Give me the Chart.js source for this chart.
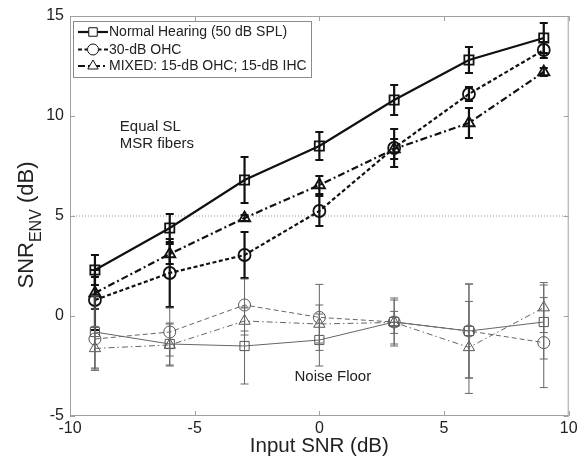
<!DOCTYPE html>
<html>
<head>
<meta charset="utf-8">
<script src="https://cdn.jsdelivr.net/npm/chart.js@4.4.1/dist/chart.umd.min.js"></script>
<style>
html, body { margin: 0; padding: 0; background: #fff; }
#wrap { width: 577px; height: 459px; }
</style>
</head>
<body>
<div id="wrap"><canvas id="chart" width="577" height="459"></canvas></div>
<script>
// Дані
const inputSnr = [-9, -6, -3, 0, 3, 6, 9];
const xTicks = [-10, -5, 0, 5, 10];
const yTicks = [-5, 0, 5, 10, 15];

const nhSnrEnv = [2.3, 4.4, 6.8, 8.5, 10.8, 12.8, 13.9];
const nhSnrEnvErr = [0.75, 0.7, 1.15, 0.7, 0.75, 0.65, 0.75];
const ohcSnrEnv = [0.8, 2.15, 3.05, 5.25, 8.4, 11.1, 13.3];
const ohcSnrEnvErr = [1.5, 1.7, 1.15, 0.75, 0.95, 0.35, 0.4];
const mixSnrEnv = [1.15, 3.1, 4.9, 6.55, 8.35, 9.65, 12.2];
const mixSnrEnvErr = [0.8, 0.5, 0.15, 0.45, 0.5, 0.75, 0.2];

const nhNoise = [-0.8, -1.4, -1.5, -1.2, -0.3, -0.75, -0.3];
const nhNoiseErr = [1.8, 1.05, 1.9, 1.3, 1.2, 2.35, 1.85];
const ohcNoise = [-1.15, -0.8, 0.55, -0.07, -0.3, -0.75, -1.33];
const ohcNoiseErr = [1.5, 1.2, 1.3, 1.65, 1.1, 2.35, 2.25];
const mixNoise = [-1.62, -1.45, -0.25, -0.4, -0.32, -1.57, 0.42];
const mixNoiseErr = [1.1, 1.05, 0.7, 0.95, 0.55, 2.3, 1.25];

const refLineX = [-10, 10];
const refLineY = [5, 5];

const legendLabels = ['Normal Hearing (50 dB SPL)', '30-dB OHC', 'MIXED: 15-dB OHC; 15-dB IHC'];

const FONT = 'Liberation Sans, Arial, sans-serif';

function toPoints(xs, ys) {
    return xs.map((x, i) => ({ x: x, y: ys[i] }));
}

// Серія даних з планками похибок
function series(label, ys, errs, style) {
    return Object.assign({
        label: label,
        data: toPoints(inputSnr, ys),
        errors: errs,
        backgroundColor: 'transparent',
        pointBackgroundColor: 'transparent',
        tension: 0
    }, style);
}

const thick = { borderColor: '#111', pointBorderColor: '#111', borderWidth: 2.2, pointBorderWidth: 1.8 };
const thin = { borderColor: '#666', pointBorderColor: '#555', borderWidth: 1, pointBorderWidth: 1 };

const datasets = [
    series(legendLabels[0], nhSnrEnv, nhSnrEnvErr, Object.assign({ pointStyle: 'rect', pointRadius: 6.5, borderDash: [] }, thick)),
    series(legendLabels[1], ohcSnrEnv, ohcSnrEnvErr, Object.assign({ pointStyle: 'circle', pointRadius: 6, borderDash: [4, 2.5] }, thick)),
    series(legendLabels[2], mixSnrEnv, mixSnrEnvErr, Object.assign({ pointStyle: 'triangle', pointRadius: 6.5, borderDash: [7, 3, 2, 3] }, thick)),
    series('NH noise', nhNoise, nhNoiseErr, Object.assign({ pointStyle: 'rect', pointRadius: 6.5, borderDash: [] }, thin)),
    series('OHC noise', ohcNoise, ohcNoiseErr, Object.assign({ pointStyle: 'circle', pointRadius: 6, borderDash: [5, 3] }, thin)),
    series('MIXED noise', mixNoise, mixNoiseErr, Object.assign({ pointStyle: 'triangle', pointRadius: 6.5, borderDash: [6, 3, 1.5, 3] }, thin)),
    {
        label: 'ref',
        data: toPoints(refLineX, refLineY),
        borderColor: '#999',
        borderWidth: 1,
        borderDash: [1, 2],
        pointRadius: 0,
        order: 10
    }
];

// Рамка осей з внутрішніми поділками
const boxPlugin = {
    id: 'box',
    beforeDatasetsDraw(chart) {
        const { ctx, chartArea: a, scales: { x, y } } = chart;
        ctx.save();
        ctx.strokeStyle = '#a0a0a0';
        ctx.lineWidth = 1;
        ctx.strokeRect(a.left + 0.5, a.top + 0.5, a.right - a.left - 1, a.bottom - a.top - 1);
        ctx.beginPath();
        xTicks.forEach(v => {
            const px = Math.round(x.getPixelForValue(v)) + 0.5;
            ctx.moveTo(px, a.bottom); ctx.lineTo(px, a.bottom - 5);
            ctx.moveTo(px, a.top); ctx.lineTo(px, a.top + 5);
        });
        yTicks.forEach(v => {
            const py = Math.round(y.getPixelForValue(v)) + 0.5;
            ctx.moveTo(a.left, py); ctx.lineTo(a.left + 5, py);
            ctx.moveTo(a.right, py); ctx.lineTo(a.right - 5, py);
        });
        ctx.stroke();
        ctx.restore();
    }
};

// Планки похибок
const errorBarPlugin = {
    id: 'errorBars',
    afterDatasetsDraw(chart) {
        const { ctx, scales: { x, y } } = chart;
        ctx.save();
        chart.data.datasets.forEach(ds => {
            if (!ds.errors) return;
            ctx.strokeStyle = ds.borderColor;
            ctx.lineWidth = ds.borderWidth;
            ctx.setLineDash([]);
            ds.data.forEach((p, i) => {
                const e = ds.errors[i];
                const px = x.getPixelForValue(p.x);
                const top = y.getPixelForValue(p.y + e);
                const bot = y.getPixelForValue(p.y - e);
                ctx.beginPath();
                ctx.moveTo(px, top); ctx.lineTo(px, bot);
                ctx.moveTo(px - 4, top); ctx.lineTo(px + 4, top);
                ctx.moveTo(px - 4, bot); ctx.lineTo(px + 4, bot);
                ctx.stroke();
            });
        });
        ctx.restore();
    }
};

// Підписи всередині графіка, назва осі Y та легенда
const textPlugin = {
    id: 'texts',
    afterDraw(chart) {
        const { ctx, chartArea: a, scales: { x, y } } = chart;
        ctx.save();
        ctx.fillStyle = '#222';
        ctx.font = '15px ' + FONT;
        ctx.textBaseline = 'middle';
        ctx.textAlign = 'left';
        ctx.fillText('Equal SL', x.getPixelForValue(-8), y.getPixelForValue(9.45));
        ctx.fillText('MSR fibers', x.getPixelForValue(-8), y.getPixelForValue(8.6));
        ctx.textAlign = 'center';
        ctx.fillText('Noise Floor', x.getPixelForValue(0.54), y.getPixelForValue(-3.05));

        // Назва осі Y з нижнім індексом
        const big = '22px ' + FONT;
        const small = '16px ' + FONT;
        ctx.font = big;
        const w1 = ctx.measureText('SNR').width;
        const w3 = ctx.measureText(' (dB)').width;
        ctx.font = small;
        const w2 = ctx.measureText('ENV').width;
        const total = w1 + w2 + w3;
        const cy = (a.top + a.bottom) / 2 + 9;
        ctx.translate(33, cy + total / 2);
        ctx.rotate(-Math.PI / 2);
        ctx.textAlign = 'left';
        ctx.textBaseline = 'alphabetic';
        ctx.font = big;
        ctx.fillText('SNR', 0, 0);
        ctx.font = small;
        ctx.fillText('ENV', w1, 8);
        ctx.font = big;
        ctx.fillText(' (dB)', w1 + w2, 0);
        ctx.restore();

        // Легенда
        ctx.save();
        const lx = 73, ly = 21, lw = 238, lh = 56;
        ctx.fillStyle = '#fff';
        ctx.fillRect(lx, ly, lw, lh);
        ctx.strokeStyle = '#8a8a8a';
        ctx.lineWidth = 1;
        ctx.strokeRect(lx + 0.5, ly + 0.5, lw, lh);
        const rows = [32, 49.5, 66];
        chart.data.datasets.slice(0, 3).forEach((ds, i) => {
            const ry = rows[i];
            ctx.strokeStyle = ds.borderColor;
            ctx.lineWidth = ds.borderWidth;
            ctx.setLineDash(ds.borderDash || []);
            ctx.beginPath();
            ctx.moveTo(lx + 5, ry);
            ctx.lineTo(lx + 35, ry);
            ctx.stroke();
            ctx.setLineDash([]);
            ctx.lineWidth = 1;
            ctx.fillStyle = '#fff';
            Chart.helpers.drawPoint(ctx, {
                pointStyle: ds.pointStyle,
                radius: ds.pointRadius - 0.5,
                borderWidth: 1
            }, lx + 20, ry);
            ctx.fillStyle = '#222';
            ctx.font = '14px ' + FONT;
            ctx.textAlign = 'left';
            ctx.textBaseline = 'middle';
            ctx.fillText(ds.label, lx + 36, ry + 0.5);
        });
        ctx.restore();
    }
};

new Chart(document.getElementById('chart'), {
    type: 'line',
    data: { datasets: datasets },
    options: {
        responsive: false,
        animation: false,
        devicePixelRatio: 1,
        layout: { padding: { top: 16, right: 7, left: 0, bottom: 0 } },
        plugins: {
            legend: { display: false },
            tooltip: { enabled: false }
        },
        scales: {
            x: {
                type: 'linear',
                min: -10,
                max: 10,
                afterBuildTicks: s => { s.ticks = xTicks.map(v => ({ value: v })); },
                afterFit: s => { s.height = 43; s.paddingLeft = 0; s.paddingRight = 0; },
                grid: { display: false, drawTicks: false },
                border: { display: false },
                ticks: { color: '#222', font: { family: FONT, size: 16 }, padding: 3, maxRotation: 0 },
                title: {
                    display: true,
                    text: 'Input SNR (dB)',
                    color: '#222',
                    font: { family: FONT, size: 20.5 },
                    padding: { top: 0, bottom: 0 }
                }
            },
            y: {
                type: 'linear',
                min: -5,
                max: 15,
                afterBuildTicks: s => { s.ticks = yTicks.map(v => ({ value: v })); },
                afterFit: s => { s.width = 70; s.paddingTop = 0; s.paddingBottom = 0; },
                grid: { display: false, drawTicks: false },
                border: { display: false },
                ticks: { color: '#222', font: { family: FONT, size: 16 }, padding: 6 }
            }
        }
    },
    plugins: [boxPlugin, errorBarPlugin, textPlugin]
});
</script>
</body>
</html>
